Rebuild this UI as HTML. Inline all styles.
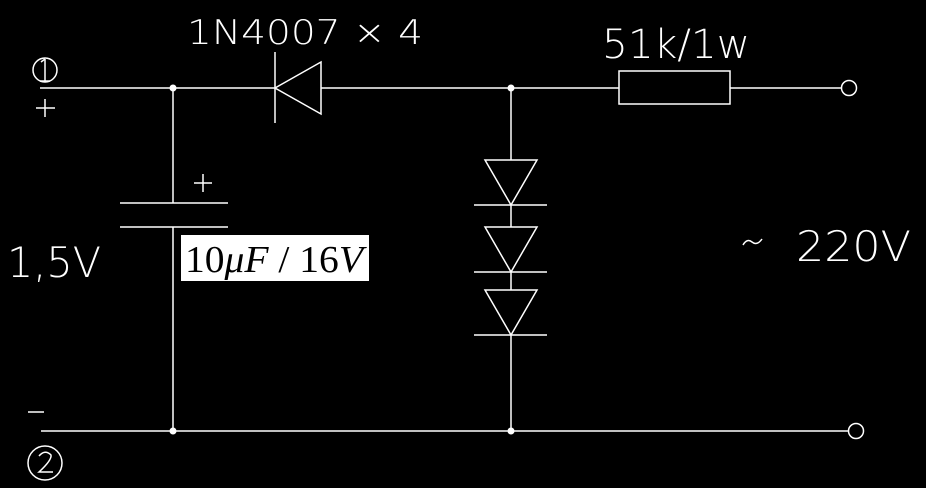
<!DOCTYPE html>
<html><head><style>body{margin:0;background:#000}svg{display:block}</style></head>
<body>
<svg width="926" height="488" viewBox="0 0 926 488" xmlns="http://www.w3.org/2000/svg">
<rect width="926" height="488" fill="#000"/>
<g stroke="#fff" stroke-width="1.5" fill="none">
<line x1="40" y1="88" x2="275" y2="88"/>
<line x1="321" y1="88" x2="619" y2="88"/>
<line x1="730" y1="88" x2="841" y2="88"/>
<circle cx="849" cy="88" r="7.5"/>
<line x1="275" y1="52" x2="275" y2="123"/>
<polygon points="275,88 321,62 321,114"/>
<rect x="619" y="71" width="111" height="33"/>
<line x1="173" y1="88" x2="173" y2="203"/>
<line x1="120" y1="203" x2="228" y2="203"/>
<line x1="120" y1="227" x2="228" y2="227"/>
<line x1="173" y1="227" x2="173" y2="431"/>
<line x1="194" y1="183" x2="212" y2="183"/>
<line x1="203" y1="174" x2="203" y2="192"/>
<line x1="511" y1="88" x2="511" y2="160"/>
<polygon points="485,160 537,160 511,205"/>
<line x1="474" y1="205" x2="547" y2="205"/>
<line x1="511" y1="205" x2="511" y2="227"/>
<polygon points="485,227 537,227 511,272"/>
<line x1="474" y1="272" x2="547" y2="272"/>
<line x1="511" y1="272" x2="511" y2="290"/>
<polygon points="485,290 537,290 511,335"/>
<line x1="474" y1="335" x2="547" y2="335"/>
<line x1="511" y1="335" x2="511" y2="431"/>
<line x1="41" y1="431" x2="848" y2="431"/>
<circle cx="856" cy="431" r="7.5"/>
<circle cx="45" cy="70" r="12"/>
<line x1="45" y1="59" x2="45" y2="81"/>
<line x1="41" y1="62" x2="45" y2="59"/>
<line x1="40" y1="81" x2="50" y2="81"/>
<line x1="36" y1="108" x2="55" y2="108"/>
<line x1="45" y1="99" x2="45" y2="117"/>
<line x1="28" y1="412" x2="44" y2="412"/>
<circle cx="45" cy="463" r="17"/>
<path d="M39,456 Q45,449 51,455 Q52,460 39,472 L53,472"/>
<path d="M743,245 Q747,238 752,242 Q757,246 762,239"/>
</g>
<g fill="#fff">
<circle cx="173" cy="88" r="3.5"/>
<circle cx="511" cy="88" r="3.5"/>
<circle cx="173" cy="431" r="3.5"/>
<circle cx="511" cy="431" r="3.5"/>
</g>
<g fill="#fff" font-family="DejaVu Sans, Liberation Sans, sans-serif" font-weight="200">
<text x="187" y="44" font-size="34" textLength="236" lengthAdjust="spacingAndGlyphs">1N4007 × 4</text>
<text x="602" y="58" font-size="40" textLength="148" lengthAdjust="spacingAndGlyphs">51k/1w</text>
<text x="796" y="261" font-size="42" textLength="115" lengthAdjust="spacingAndGlyphs">220V</text>
<text x="7" y="277" font-size="42" textLength="94" lengthAdjust="spacingAndGlyphs">1,5V</text>
</g>
<rect x="181" y="235" width="188" height="46" fill="#fff"/>
<text x="185" y="272" font-family="Liberation Serif, serif" font-size="38" fill="#000" textLength="178" lengthAdjust="spacingAndGlyphs">10<tspan font-style="italic">μF</tspan> / 16<tspan font-style="italic">V</tspan></text>
</svg>
</body></html>
